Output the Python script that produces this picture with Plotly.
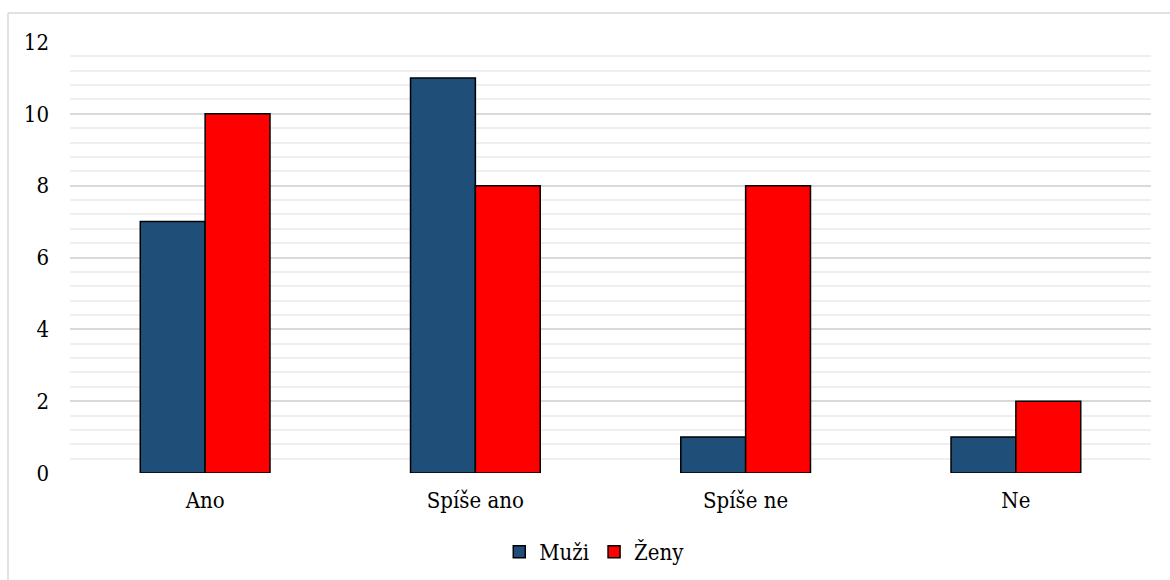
import plotly.graph_objects as go

categories = ["Ano", "Spíše ano", "Spíše ne", "Ne"]
muzi = [7, 11, 1, 1]
zeny = [10, 8, 8, 2]
y_ticks = [0, 2, 4, 6, 8, 10, 12]

W, H = 1170, 580
ML, MR, MT, MB = 70, 19, 42, 107
pw = W - ML - MR
ph = H - MT - MB

def px_x(p):
    return (p - ML) / pw

def px_y(p):
    return (H - MB - p) / ph

font = "'DejaVu Serif Condensed', 'DejaVu Serif', serif"
FS = 22

fig = go.Figure()
fig.add_trace(go.Bar(x=categories, y=muzi, name="Muži",
                     marker=dict(color="#1f4e79", line=dict(color="#000000", width=1.5))))
fig.add_trace(go.Bar(x=categories, y=zeny, name="Ženy",
                     marker=dict(color="#ff0000", line=dict(color="#000000", width=1.5))))

fig.update_layout(
    width=W, height=H,
    margin=dict(l=ML, r=MR, t=MT, b=MB),
    paper_bgcolor="white", plot_bgcolor="white",
    barmode="group", bargap=0.52, bargroupgap=0,
    font=dict(family=font, size=FS, color="#000000"),
    showlegend=True,
    legend=dict(orientation="h", x=0.485, xanchor="center",
                yref="container", y=1 - 552 / H, yanchor="middle",
                font=dict(family=font, size=FS, color="#000000"),
                itemwidth=30, tracegroupgap=0),
    xaxis=dict(showgrid=False, showline=False, zeroline=False, ticks="", automargin=False,
               ticklabelstandoff=12, tickfont=dict(family=font, size=FS)),
    yaxis=dict(range=[0, 12], tickvals=y_ticks, showgrid=True, gridcolor="#d9d9d9", gridwidth=1.5,
               zeroline=False, showline=False, ticks="", ticklabelstandoff=20, automargin=False,
               tickfont=dict(family=font, size=FS),
               minor=dict(dtick=0.4, tick0=0, showgrid=True, gridcolor="#efefef", gridwidth=1.5)),
    shapes=[
        dict(type="line", xref="paper", yref="paper", x0=px_x(8), x1=px_x(1170), y0=px_y(13), y1=px_y(13),
             line=dict(color="#d9d9d9", width=1.5)),
        dict(type="line", xref="paper", yref="paper", x0=px_x(8), x1=px_x(8), y0=px_y(13), y1=px_y(580),
             line=dict(color="#d9d9d9", width=1.5)),
    ],
)

fig.write_html("out.html")
